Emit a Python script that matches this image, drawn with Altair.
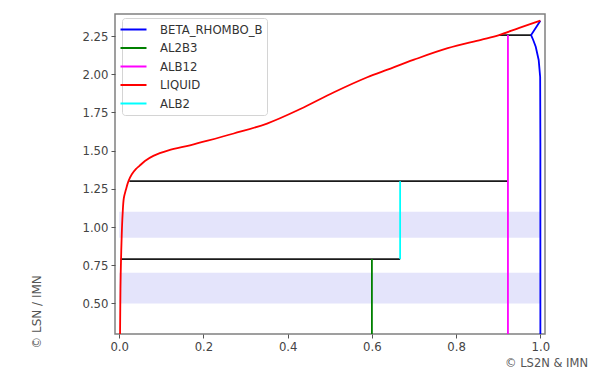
import altair as alt
import pandas as pd

# ---- data ----
phases = ["BETA_RHOMBO_B", "AL2B3", "ALB12", "LIQUID", "ALB2"]
phase_colors = ["#0000ff", "#008000", "#ff00ff", "#ff0000", "#00ffff"]

liquid_x = [0.002, 0.003, 0.004, 0.006, 0.008, 0.011, 0.016, 0.022, 0.030, 0.040, 0.048,
            0.061, 0.081, 0.117, 0.168, 0.21, 0.272, 0.351, 0.43, 0.51, 0.589, 0.637,
            0.70, 0.78, 0.859, 0.902, 0.95, 1.0]
liquid_y = [0.30, 0.60, 0.75, 0.95, 1.08, 1.19, 1.245, 1.30, 1.345, 1.38, 1.40,
            1.432, 1.466, 1.502, 1.535, 1.565, 1.612, 1.677, 1.772, 1.882, 1.98, 2.03,
            2.095, 2.17, 2.225, 2.256, 2.303, 2.35]

beta_x = [1.0, 1.0, 0.9995, 0.996, 0.989, 0.983, 0.978, 1.0]
beta_y = [0.30, 1.55, 1.983, 2.093, 2.18, 2.224, 2.256, 2.35]

al2b3_x = [0.6, 0.6]
al2b3_y = [0.30, 0.79]
alb12_x = [0.923, 0.923]
alb12_y = [0.30, 2.256]
alb2_x = [0.667, 0.667]
alb2_y = [0.79, 1.30]

tie_y = [1.30, 0.79, 2.256]
tie_x1 = [0.024, 0.003, 0.902]
tie_x2 = [0.923, 0.667, 0.978]

band_lo = [0.50, 0.93]
band_hi = [0.70, 1.10]
band_x1 = [0.0, 0.0]
band_x2 = [1.0, 1.0]

x_ticks = [0.0, 0.2, 0.4, 0.6, 0.8, 1.0]
y_ticks = [0.50, 0.75, 1.00, 1.25, 1.50, 1.75, 2.00, 2.25]

# ---- tables ----
def table(series):
    rows = []
    for name, xs, ys in series:
        for i, (a, b) in enumerate(zip(xs, ys)):
            rows.append({"x": a, "y": b, "phase": name, "i": i})
    return pd.DataFrame(rows)

others_df = table([("BETA_RHOMBO_B", beta_x, beta_y), ("AL2B3", al2b3_x, al2b3_y),
                   ("ALB12", alb12_x, alb12_y), ("ALB2", alb2_x, alb2_y)])
liquid_df = table([("LIQUID", liquid_x, liquid_y)])
ties_df = pd.DataFrame({"y": tie_y, "x1": tie_x1, "x2": tie_x2})
bands_df = pd.DataFrame({"lo": band_lo, "hi": band_hi, "x1": band_x1, "x2": band_x2})

FONT = "DejaVu Sans"
xscale = alt.Scale(domain=[-0.01, 1.011], nice=False, zero=False)
yscale = alt.Scale(domain=[0.3, 2.394], nice=False, zero=False)
xaxis = alt.Axis(values=x_ticks, format=".1f", title=None, grid=False)
yaxis = alt.Axis(values=y_ticks, format=".2f", title=None, grid=False)
cscale = alt.Scale(domain=phases, range=phase_colors)
legend = alt.Legend(title=None, orient="none", legendX=7, legendY=4,
                    symbolType="M-2,0L2,0", symbolSize=169,
                    symbolStrokeWidth=2, labelOffset=19,
                    rowPadding=3.5, padding=4,
                    fillColor="white", strokeColor="#d4d4d4",
                    cornerRadius=3)

bands = alt.Chart(bands_df).mark_rect(color="#e4e4fb", clip=True).encode(
    x=alt.X("x1:Q", scale=xscale, axis=xaxis), x2="x2:Q",
    y=alt.Y("lo:Q", scale=yscale, axis=yaxis), y2="hi:Q")

ties = alt.Chart(ties_df).mark_rule(color="#1a1a1a", strokeWidth=1.8, clip=True).encode(
    x=alt.X("x1:Q", scale=xscale), x2="x2:Q", y=alt.Y("y:Q", scale=yscale))

others = alt.Chart(others_df).mark_line(strokeWidth=1.8, clip=True).encode(
    x=alt.X("x:Q", scale=xscale),
    y=alt.Y("y:Q", scale=yscale),
    color=alt.Color("phase:N", scale=cscale, sort=phases, legend=legend),
    detail="phase:N",
    order="i:Q")

liquid = alt.Chart(liquid_df).mark_line(strokeWidth=1.8, clip=True,
                                        interpolate="catmull-rom").encode(
    x=alt.X("x:Q", scale=xscale),
    y=alt.Y("y:Q", scale=yscale),
    color=alt.Color("phase:N", scale=cscale, sort=phases, legend=legend),
    order="i:Q")

wm_left = alt.Chart(pd.DataFrame({"t": ["© LSN / IMN"]})).mark_text(
    angle=270, font=FONT, fontSize=12, color="#555555", align="center", baseline="middle"
).encode(text="t:N", x=alt.value(-78.5), y=alt.value(298))

wm_right = alt.Chart(pd.DataFrame({"t": ["© LS2N & IMN"]})).mark_text(
    font=FONT, fontSize=11.5, color="#555555", align="center", baseline="middle"
).encode(text="t:N", x=alt.value(431.5), y=alt.value(350))

chart = alt.layer(bands, ties, others, liquid, wm_left, wm_right).properties(
    width=430, height=320,
    autosize=alt.AutoSizeParams(type="none"),
    padding={"left": 107, "top": 6, "right": 55, "bottom": 38},
).configure_view(
    stroke="#808080", strokeWidth=1.5
).configure_axis(
    labelFont=FONT, labelFontSize=11.7, labelColor="#444444",
    tickColor="#555555", tickSize=4, tickWidth=1, labelPadding=3,
    domain=False
).configure_legend(
    labelFont=FONT, labelFontSize=11.7, labelColor="#333333"
)

chart.save("out.html", embed_options={"renderer": "svg", "actions": False})
